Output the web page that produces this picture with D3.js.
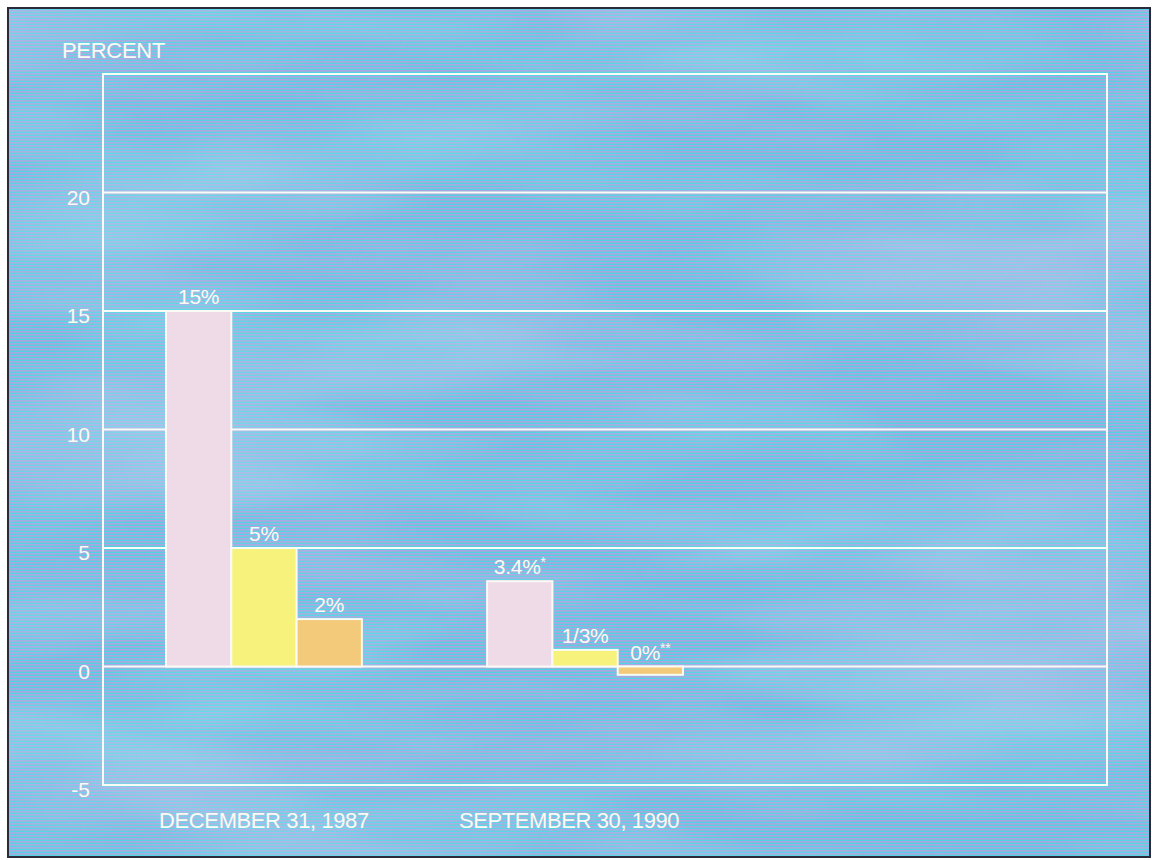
<!DOCTYPE html>
<html>
<head>
<meta charset="utf-8">
<script src="https://cdn.jsdelivr.net/npm/d3@7"></script>
<style>
  body { margin: 0; background: #fff; }
  svg text { font-family: "Liberation Sans", Arial, sans-serif; fill: #fbfbf5; }
</style>
</head>
<body>
<svg id="chart"></svg>
<script>
// data
var groups = ["DECEMBER 31, 1987", "SEPTEMBER 30, 1990"]
var seriesKeys = ["first", "second", "third"]
var values1987 = [15, 5, 2]
var values1990 = [3.6, 0.7, -0.35]
var labels1987 = ["15%", "5%", "2%"]
var labels1990 = ["3.4%", "1/3%", "0%"]
var marks1990 = ["*", "", "**"]
var yTicks = [-5, 0, 5, 10, 15, 20]
var barColors = ["#efdbe7", "#f6f27c", "#f2ca79"]

var dimensions = {
  width: 1152,
  height: 860,
  margin: { top: 74, bottom: 75, left: 103, right: 45 }
}

var svg = d3.select("#chart")
  .attr("width", dimensions.width)
  .attr("height", dimensions.height)

// scanline background
var defs = svg.append("defs")
var pat = defs.append("pattern")
  .attr("id", "scan")
  .attr("width", 8).attr("height", 3)
  .attr("patternUnits", "userSpaceOnUse")
pat.append("rect").attr("width", 8).attr("height", 1).attr("fill", "#4fd2e2")
pat.append("rect").attr("y", 1).attr("width", 8).attr("height", 1).attr("fill", "#aaa3e4")
pat.append("rect").attr("y", 2).attr("width", 8).attr("height", 1).attr("fill", "#8cb6d8")

function mottle(id, seed, rgb) {
  var f = defs.append("filter").attr("id", id)
    .attr("x", 0).attr("y", 0).attr("width", 1).attr("height", 1)
  f.append("feTurbulence")
    .attr("type", "fractalNoise")
    .attr("baseFrequency", "0.0025 0.01")
    .attr("numOctaves", 3)
    .attr("seed", seed)
  f.append("feColorMatrix")
    .attr("type", "matrix")
    .attr("values", `0 0 0 0 ${rgb[0]}  0 0 0 0 ${rgb[1]}  0 0 0 0 ${rgb[2]}  2.6 0 0 0 -1.1`)
}
mottle("mottleCyan", 7, [0.3, 0.86, 0.9])
mottle("mottleLav", 21, [0.66, 0.62, 0.9])

var bg = [
  { fill: "url(#scan)", filter: null, opacity: 1 },
  { fill: null, filter: "url(#mottleCyan)", opacity: 0.5 },
  { fill: null, filter: "url(#mottleLav)", opacity: 0.45 },
  { fill: "url(#scan)", filter: null, opacity: 0.3 }
]
bg.forEach(function (b) {
  svg.append("rect")
    .attr("x", 8).attr("y", 8)
    .attr("width", 1142).attr("height", 849)
    .attr("fill", b.fill)
    .attr("filter", b.filter)
    .attr("opacity", b.opacity)
})
svg.append("rect")
  .attr("x", 8).attr("y", 8)
  .attr("width", 1142).attr("height", 849)
  .attr("fill", "none")
  .attr("stroke", "#2a2a3a")
  .attr("stroke-width", 2)

var yScale = d3.scaleLinear()
  .domain([-5, 25])
  .range([dimensions.height - dimensions.margin.bottom, dimensions.margin.top])

var xScale = d3.scaleBand()
  .domain(groups)
  .range([166, 683])
  .paddingInner(0.39)

var innerScale = d3.scaleBand()
  .domain(seriesKeys)
  .range([0, xScale.bandwidth()])

var plotLeft = dimensions.margin.left
var plotRight = dimensions.width - dimensions.margin.right

// grid lines
svg.append("g")
  .selectAll("line")
  .data(yTicks)
  .enter()
  .append("line")
  .attr("x1", plotLeft)
  .attr("x2", plotRight)
  .attr("y1", d => yScale(d))
  .attr("y2", d => yScale(d))
  .attr("stroke", "#fbfbf5")
  .attr("stroke-width", 2)

// frame
svg.append("rect")
  .attr("x", plotLeft)
  .attr("y", yScale(25))
  .attr("width", plotRight - plotLeft)
  .attr("height", yScale(-5) - yScale(25))
  .attr("fill", "none")
  .attr("stroke", "#fbfbf5")
  .attr("stroke-width", 2)

// y labels
svg.append("g")
  .selectAll("text")
  .data(yTicks)
  .enter()
  .append("text")
  .attr("x", 90)
  .attr("y", d => yScale(d) + 12)
  .attr("text-anchor", "end")
  .attr("font-size", 21)
  .text(d => d)

svg.append("text")
  .attr("x", 62)
  .attr("y", 58)
  .attr("font-size", 22)
  .attr("letter-spacing", -0.3)
  .text("PERCENT")

// bars
var rows = [
  { group: groups[0], values: values1987, labels: labels1987, marks: ["", "", ""] },
  { group: groups[1], values: values1990, labels: labels1990, marks: marks1990 }
]

rows.forEach(function (row) {
  var g = svg.append("g")
    .attr("transform", `translate(${xScale(row.group)},0)`)

  var items = seriesKeys.map((k, i) => ({
    key: k, value: row.values[i], label: row.labels[i], mark: row.marks[i], color: barColors[i]
  }))

  g.selectAll("rect")
    .data(items)
    .enter()
    .append("rect")
    .attr("x", d => innerScale(d.key))
    .attr("y", d => yScale(Math.max(0, d.value)))
    .attr("width", innerScale.bandwidth())
    .attr("height", d => Math.abs(yScale(d.value) - yScale(0)))
    .attr("fill", d => d.color)
    .attr("stroke", "#fbfbf5")
    .attr("stroke-width", 2)

  var lbl = g.selectAll("text")
    .data(items)
    .enter()
    .append("text")
    .attr("x", d => innerScale(d.key) + innerScale.bandwidth() / 2)
    .attr("y", d => yScale(Math.max(0, d.value)) - 7)
    .attr("text-anchor", "middle")
    .attr("font-size", 21)
    .attr("letter-spacing", -0.3)

  lbl.append("tspan").text(d => d.label)
  lbl.append("tspan")
    .attr("font-size", 14)
    .attr("dy", -7)
    .text(d => d.mark)

  // category label
  svg.append("text")
    .attr("x", xScale(row.group) + xScale.bandwidth() / 2 - (row.group === groups[1] ? 16 : 0))
    .attr("y", 828)
    .attr("text-anchor", "middle")
    .attr("font-size", 22)
    .attr("letter-spacing", -0.4)
    .text(row.group)
})
</script>
</body>
</html>
